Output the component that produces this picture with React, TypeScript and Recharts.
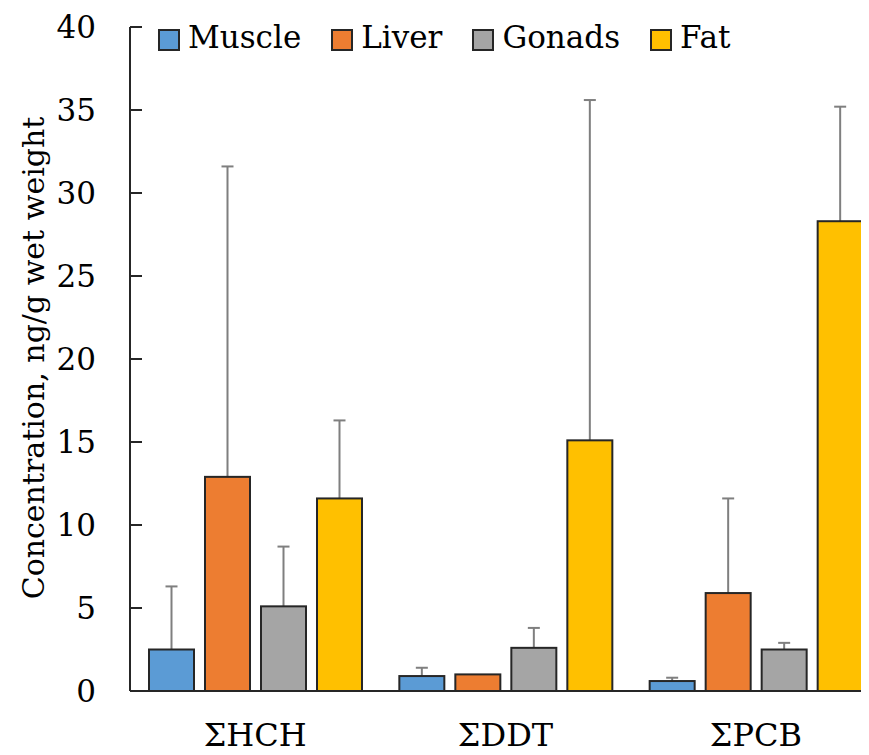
import { BarChart, Bar, XAxis, YAxis } from 'recharts';

const categories = ['ΣHCH', 'ΣDDT', 'ΣPCB'];
const muscle = [2.5, 0.9, 0.6];
const muscleErr = [3.8, 0.5, 0.2];
const liver = [12.9, 1.0, 5.9];
const liverErr = [18.7, 0, 5.7];
const gonads = [5.1, 2.6, 2.5];
const gonadsErr = [3.6, 1.2, 0.4];
const fat = [11.6, 15.1, 28.3];
const fatErr = [4.7, 20.5, 6.9];
const yTicks = [0, 5, 10, 15, 20, 25, 30, 35, 40];

const SERIES = [
  { key: 'muscle', name: 'Muscle', color: '#5b9bd5' },
  { key: 'liver', name: 'Liver', color: '#ed7d31' },
  { key: 'gonads', name: 'Gonads', color: '#a5a5a5' },
  { key: 'fat', name: 'Fat', color: '#ffc000' },
];

const data = categories.map((c, i) => ({
  name: c,
  muscle: muscle[i],
  muscleErr: muscleErr[i],
  liver: liver[i],
  liverErr: liverErr[i],
  gonads: gonads[i],
  gonadsErr: gonadsErr[i],
  fat: fat[i],
  fatErr: fatErr[i],
}));

const FONT = 'DejaVu Serif, Liberation Serif, Noto Serif, Times, serif';
const AXIS_X = 122;
const AXIS_COLOR = '#262626';

function YTick(props: any) {
  const { y, payload } = props;
  return (
    <g>
      <line x1={AXIS_X} x2={AXIS_X + 12} y1={y} y2={y} stroke={AXIS_COLOR} strokeWidth={2} />
      <text x={AXIS_X - 34} y={y} dy="0.36em" textAnchor="end" style={{ fontFamily: FONT }} fontSize={31} fill="#000">
        {payload.value}
      </text>
    </g>
  );
}

function XTick(props: any) {
  const { x, payload } = props;
  return (
    <text x={x} y={738} textAnchor="middle" style={{ fontFamily: FONT }} fontSize={32} fill="#000">
      {payload.value}
    </text>
  );
}

function YLabel() {
  return (
    <text
      x={36}
      y={350}
      transform="rotate(-90, 36, 350)"
      textAnchor="middle"
      style={{ fontFamily: FONT }}
      fontSize={30}
      fill="#000"
    >
      Concentration,  ng/g wet weight
    </text>
  );
}

// bar with an upward-only error whisker, scaled from the bar's own pixel height
function makeShape(errKey: string, color: string) {
  return (props: any) => {
    const { x, y, width, height, payload, value } = props;
    const v = Array.isArray(value) ? value[1] - value[0] : value;
    const pxPerUnit = v ? height / v : 0;
    const errPx = (payload[errKey] || 0) * pxPerUnit;
    const cx = x + width / 2;
    return (
      <g>
        {errPx > 0 && (
          <g stroke="#7f7f7f" strokeWidth={2}>
            <line x1={cx} x2={cx} y1={y} y2={y - errPx} />
            <line x1={cx - 6} x2={cx + 6} y1={y - errPx} y2={y - errPx} />
          </g>
        )}
        <rect x={x} y={y} width={width} height={height} fill={color} stroke={AXIS_COLOR} strokeWidth={2} />
      </g>
    );
  };
}

export default function App() {
  return (
    <div style={{ position: 'relative', width: 861, height: 747, overflow: 'hidden', marginBottom: -8 }}>
      <BarChart
        width={873}
        height={747}
        data={data}
        margin={{ top: 19, right: 0, left: 0, bottom: 0 }}
        barSize={45}
        barGap={11}
      >
        <XAxis
          dataKey="name"
          height={64}
          tickSize={0}
          tickLine={false}
          tick={<XTick />}
          axisLine={{ stroke: AXIS_COLOR, strokeWidth: 2 }}
        />
        <YAxis
          width={AXIS_X}
          domain={[0, 40]}
          ticks={yTicks}
          interval={0}
          tickLine={false}
          tick={<YTick />}
          axisLine={{ stroke: AXIS_COLOR, strokeWidth: 2 }}
          label={{ content: () => <YLabel /> }}
        />
        {SERIES.map((s) => (
          <Bar
            key={s.key}
            dataKey={s.key}
            name={s.name}
            fill={s.color}
            shape={makeShape(s.key + 'Err', s.color)}
            isAnimationActive={false}
          />
        ))}
      </BarChart>
      <div
        style={{
          position: 'absolute',
          top: 14,
          left: 150,
          display: 'flex',
          alignItems: 'flex-start',
          gap: 30,
          fontFamily: FONT,
          fontSize: 31,
          lineHeight: 1,
          color: '#000',
          whiteSpace: 'nowrap',
        }}
      >
        {SERIES.map((s) => (
          <div key={s.key} style={{ display: 'flex', alignItems: 'flex-start' }}>
            <span
              style={{
                display: 'inline-block',
                width: 18,
                height: 18,
                marginTop: 7,
                marginRight: 8,
                background: s.color,
                border: `2px solid ${AXIS_COLOR}`,
              }}
            />
            <span>{s.name}</span>
          </div>
        ))}
      </div>
    </div>
  );
}
